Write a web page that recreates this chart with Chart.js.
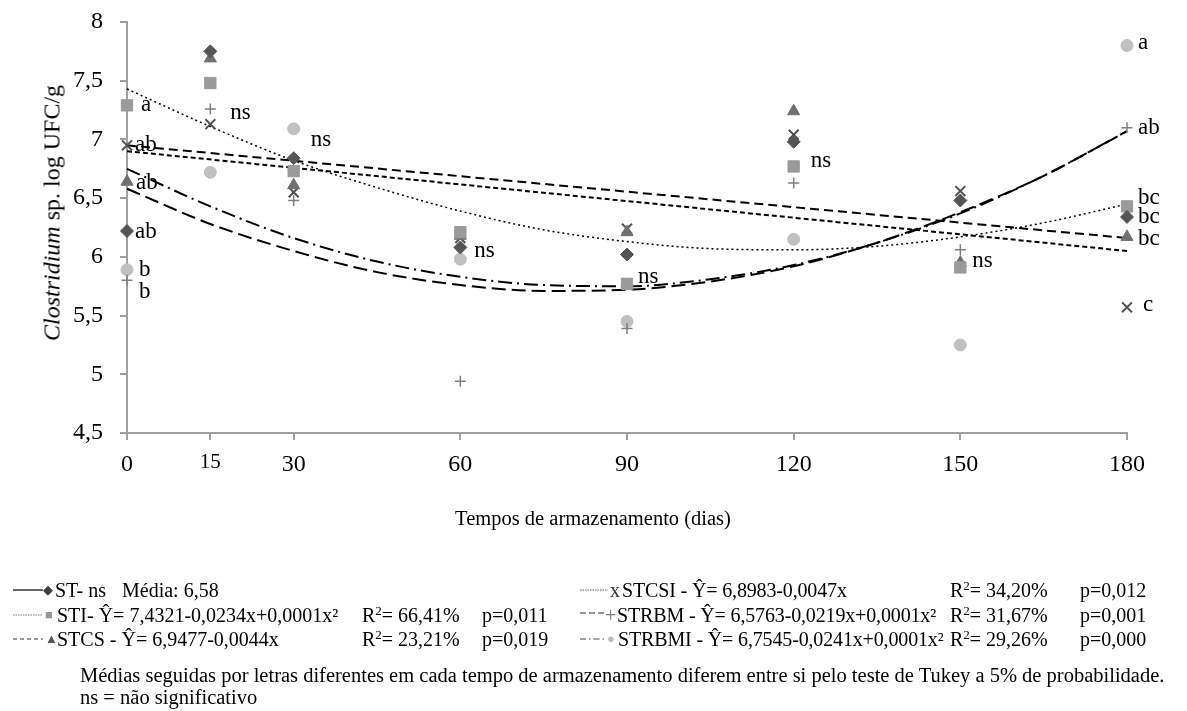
<!DOCTYPE html>
<html>
<head>
<meta charset="utf-8">
<script src="https://cdn.jsdelivr.net/npm/chart.js@4.4.1/dist/chart.umd.min.js"></script>
<style>
  body { margin: 0; background: #fff; font-family: "Liberation Serif", "Times New Roman", serif; color: #000; }
  #wrap { position: relative; width: 1187px; height: 711px; overflow: hidden; }
  #chart { position: absolute; left: 0; top: 0; }
  #ytitle { position: absolute; left: 52px; top: 213px; font-size: 24px; white-space: nowrap;
            transform: translate(-50%, -50%) rotate(-90deg); }
  #xtitle { position: absolute; left: 593px; top: 518px; font-size: 20.5px; white-space: nowrap;
            transform: translate(-50%, -50%); }
  .row { position: absolute; left: 0; width: 1187px; height: 22px; line-height: 22px; font-size: 20px; }
  .row span, .row svg { position: absolute; top: 0; white-space: nowrap; }
  .row sup { font-size: 13px; line-height: 0; vertical-align: 7px; }
  .mk { font-size: 13px; }
  .eq { letter-spacing: -0.15px; }
  .note { font-size: 20.5px; }
</style>
</head>
<body>
<div id="wrap">
  <canvas id="chart" width="1187" height="711"></canvas>
  <div id="ytitle"><i>Clostridium</i> sp. log UFC/g</div>
  <div id="xtitle">Tempos de armazenamento (dias)</div>

  <div class="row" style="top:579px">
    <svg style="left:13px" width="30" height="22"><line x1="0" y1="11" x2="30" y2="11" stroke="#000" stroke-width="1.2"/></svg>
    <span class="mk" style="left:43px;color:#404040">◆</span>
    <span style="left:55px">ST- ns</span>
    <span style="left:122px">Média: 6,58</span>
    <svg style="left:580px" width="28" height="22"><line x1="0" y1="11" x2="28" y2="11" stroke="#555" stroke-width="1" stroke-dasharray="1.5 1"/></svg>
    <span style="left:610px;color:#333">x</span>
    <span class="eq" style="left:622px">STCSI - Ŷ= 6,8983-0,0047x</span>
    <span style="left:950px">R<sup>2</sup>= 34,20%</span>
    <span style="left:1080px">p=0,012</span>
  </div>

  <div class="row" style="top:604px">
    <svg style="left:13px" width="30" height="22"><line x1="0" y1="11" x2="30" y2="11" stroke="#777" stroke-width="1" stroke-dasharray="1.5 1"/></svg>
    <span class="mk" style="left:45px;color:#999">■</span>
    <span style="left:57px">STI- Ŷ= 7,4321-0,0234x+0,0001x²</span>
    <span style="left:362px">R<sup>2</sup>= 66,41%</span>
    <span style="left:482px">p=0,011</span>
    <svg style="left:580px" width="26" height="22"><line x1="0" y1="9" x2="26" y2="9" stroke="#333" stroke-width="1.2" stroke-dasharray="6 3"/></svg>
    <span style="left:605px;color:#777">+</span>
    <span class="eq" style="left:617px">STRBM - Ŷ= 6,5763-0,0219x+0,0001x²</span>
    <span style="left:950px">R<sup>2</sup>= 31,67%</span>
    <span style="left:1080px">p=0,001</span>
  </div>

  <div class="row" style="top:628px">
    <svg style="left:13px" width="30" height="22"><line x1="0" y1="11" x2="30" y2="11" stroke="#333" stroke-width="1.2" stroke-dasharray="4 3"/></svg>
    <span class="mk" style="left:45px;color:#555">▲</span>
    <span style="left:57px">STCS - Ŷ= 6,9477-0,0044x</span>
    <span style="left:362px">R<sup>2</sup>= 23,21%</span>
    <span style="left:482px">p=0,019</span>
    <svg style="left:580px" width="26" height="22"><line x1="0" y1="11" x2="26" y2="11" stroke="#444" stroke-width="1.2" stroke-dasharray="6 3 1.5 3"/></svg>
    <span class="mk" style="left:607px;color:#bbb">●</span>
    <span class="eq" style="left:618px">STRBMI - Ŷ= 6,7545-0,0241x+0,0001x²</span>
    <span style="left:950px">R<sup>2</sup>= 29,26%</span>
    <span style="left:1080px">p=0,000</span>
  </div>

  <div class="row note" style="top:664px">
    <span style="left:80px">Médias seguidas por letras diferentes em cada tempo de armazenamento diferem entre si pelo teste de Tukey a 5% de probabilidade.</span>
  </div>
  <div class="row note" style="top:686px">
    <span style="left:80px">ns = não significativo</span>
  </div>
</div>

<script>
// storage times (days) and mean counts
const days = [0, 15, 30, 60, 90, 120, 150, 180];
const stValues     = [6.22, 7.75, 6.84, 6.08, 6.02, 6.98, 6.48, 6.34];
const stiValues    = [7.29, 7.48, 6.73, 6.21, 5.77, 6.77, 5.91, 6.43];
const stcsValues   = [6.64, 7.69, 6.61, 6.18, 6.21, 7.24, 5.95, 6.17];
const stcsiValues  = [6.95, 7.13, 6.55, 6.16, 6.24, 7.04, 6.56, 5.57];
const strbmValues  = [5.80, 7.26, 6.48, 4.94, 5.39, 6.63, 6.06, 7.10];
const strbmiValues = [5.89, 6.72, 7.09, 5.98, 5.45, 6.15, 5.25, 7.80];

// Tukey letters written next to the points ('' = none)
const stLetters     = ['ab', '', '', 'ns', '', '', '', 'bc'];
const stiLetters    = ['a', '', '', '', 'ns', 'ns', '', 'bc'];
const stcsLetters   = ['ab', '', '', '', '', '', 'ns', 'bc'];
const stcsiLetters  = ['ab', '', '', '', '', '', '', 'c'];
const strbmLetters  = ['b', 'ns', '', '', '', '', '', 'ab'];
const strbmiLetters = ['b', '', 'ns', '', '', '', '', 'a'];

// fitted curves
const trendDays = [0, 15, 30, 45, 60, 75, 90, 105, 120, 135, 150, 165, 180];
const stiTrend    = [7.43, 7.11, 6.82, 6.59, 6.39, 6.23, 6.13, 6.07, 6.06, 6.09, 6.17, 6.29, 6.45];
const strbmTrend  = [6.58, 6.28, 6.05, 5.87, 5.76, 5.71, 5.72, 5.79, 5.92, 6.12, 6.38, 6.69, 7.07];
const strbmiTrend = [6.75, 6.43, 6.16, 5.96, 5.83, 5.76, 5.75, 5.81, 5.93, 6.12, 6.37, 6.69, 7.07];
const lineDays = [0, 180];
const stcsTrend  = [6.95, 6.16];
const stcsiTrend = [6.90, 6.05];

const yTicks = [4.5, 5, 5.5, 6, 6.5, 7, 7.5, 8];

const serif = '"Liberation Serif", "Times New Roman", serif';

const toXY = (xs, ys) => xs.map((x, i) => ({ x: x, y: ys[i] }));

const letterSets = [stLetters, stiLetters, stcsLetters, stcsiLetters, strbmLetters, strbmiLetters];

// nudges for the letters, [dataset index, point index] -> [dx, dy]
const labelNudge = {
  '0-0': [8, 1], '1-0': [14, 0], '2-0': [9, 1], '3-0': [8, 0], '4-0': [12, 12], '5-0': [12, 0],
  '4-1': [20, 4], '5-2': [17, 11], '0-3': [14, 3], '1-4': [11, -7], '1-5': [17, -5], '2-6': [12, -2],
  '5-7': [11, -3], '4-7': [11, 0], '1-7': [11, -8], '0-7': [11, 0], '2-7': [11, 2], '3-7': [16, -2]
};

const pointLabels = {
  id: 'pointLabels',
  afterDatasetsDraw(chart) {
    const ctx = chart.ctx;
    ctx.save();
    ctx.font = '23px ' + serif;
    ctx.fillStyle = '#000';
    ctx.textAlign = 'left';
    ctx.textBaseline = 'middle';
    letterSets.forEach((letters, i) => {
      const meta = chart.getDatasetMeta(i);
      letters.forEach((t, j) => {
        if (!t) return;
        const el = meta.data[j];
        const n = labelNudge[i + '-' + j] || [11, 0];
        ctx.fillText(t, el.x + n[0], el.y + n[1]);
      });
    });
    ctx.restore();
  }
};

function pointSet(values, style, radius, color, width) {
  return {
    type: 'scatter',
    data: toXY(days, values),
    pointStyle: style,
    pointRadius: radius,
    backgroundColor: color,
    borderColor: color,
    borderWidth: width,
    clip: false,
    order: 1
  };
}

function trendSet(xs, ys, dash, width) {
  return {
    type: 'line',
    data: toXY(xs, ys),
    borderColor: '#000',
    borderWidth: width,
    borderDash: dash,
    pointRadius: 0,
    fill: false,
    cubicInterpolationMode: 'monotone',
    clip: false,
    order: 2
  };
}

new Chart(document.getElementById('chart'), {
  data: {
    datasets: [
      pointSet(stValues, 'rectRot', 6.5, '#555555', 1),
      pointSet(stiValues, 'rect', 8, '#9a9a9a', 1),
      pointSet(stcsValues, 'triangle', 7, '#707070', 1),
      pointSet(stcsiValues, 'crossRot', 7, '#505050', 2),
      pointSet(strbmValues, 'cross', 5.5, '#808080', 1.5),
      pointSet(strbmiValues, 'circle', 6, '#c0c0c0', 1),
      trendSet(trendDays, stiTrend, [2, 3], 1.5),
      trendSet(lineDays, stcsTrend, [9, 5], 2),
      trendSet(lineDays, stcsiTrend, [5, 3], 2),
      trendSet(trendDays, strbmTrend, [14, 6], 2),
      trendSet(trendDays, strbmiTrend, [14, 5, 2, 5], 2)
    ]
  },
  options: {
    responsive: false,
    animation: false,
    layout: { autoPadding: false, padding: { left: 0, top: 22, right: 60, bottom: 238 } },
    plugins: { legend: { display: false }, tooltip: { enabled: false } },
    scales: {
      x: {
        type: 'linear',
        min: 0,
        max: 180,
        afterBuildTicks: scale => { scale.ticks = days.map(v => ({ value: v })); },
        afterFit: scale => { scale.height = 40; scale.paddingLeft = 0; scale.paddingRight = 0; },
        grid: { drawOnChartArea: false, tickLength: 7, color: '#a0a0a0', lineWidth: 2 },
        border: { color: '#a0a0a0', width: 2 },
        ticks: {
          padding: 10,
          color: '#000',
          font: c => ({ family: serif, size: c.tick && c.tick.value === 15 ? 21 : 24 })
        }
      },
      y: {
        min: 4.5,
        max: 8,
        afterBuildTicks: scale => { scale.ticks = yTicks.map(v => ({ value: v })); },
        afterFit: scale => { scale.width = 127; scale.paddingTop = 0; scale.paddingBottom = 0; },
        grid: { drawOnChartArea: false, tickLength: 7, color: '#a0a0a0', lineWidth: 2 },
        border: { color: '#a0a0a0', width: 2 },
        ticks: {
          padding: 17,
          color: '#000',
          font: { family: serif, size: 24 },
          callback: v => String(v).replace('.', ',')
        }
      }
    }
  },
  plugins: [pointLabels]
});
</script>
</body>
</html>
